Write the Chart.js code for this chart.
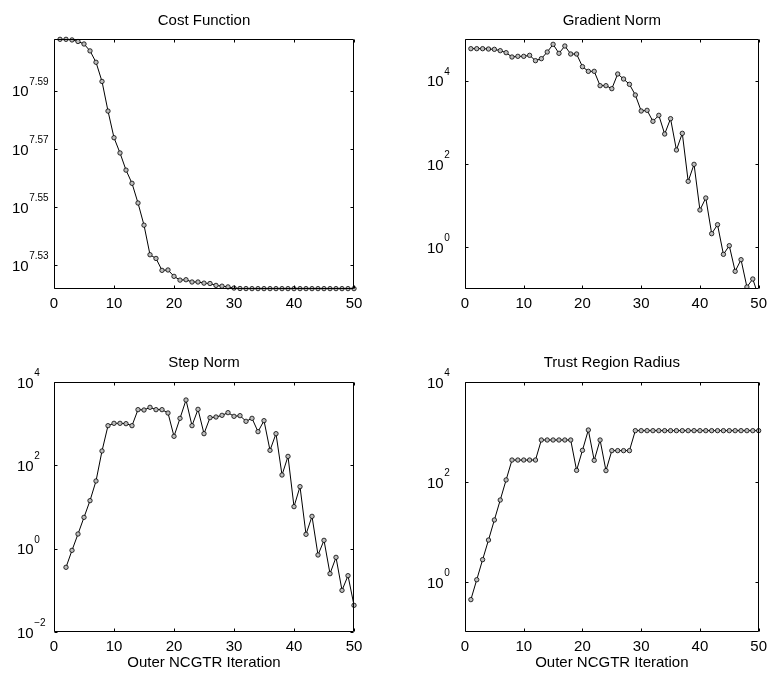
<!DOCTYPE html>
<html>
<head>
<meta charset="utf-8">
<script src="https://cdn.jsdelivr.net/npm/chart.js@4.4.0/dist/chart.umd.min.js"></script>
<style>
  body { margin: 0; background: #fff; }
  #wrap { position: relative; width: 773px; height: 675px; overflow: hidden; }
  canvas { position: absolute; }
</style>
</head>
<body>
<div id="wrap">
  <canvas id="cost" width="386" height="337" style="left:0;top:0"></canvas>
  <canvas id="grad" width="387" height="337" style="left:386px;top:0"></canvas>
  <canvas id="step" width="386" height="338" style="left:0;top:337px"></canvas>
  <canvas id="trust" width="387" height="338" style="left:386px;top:337px"></canvas>
</div>
<script>
const iterations = [1,2,3,4,5,6,7,8,9,10,11,12,13,14,15,16,17,18,19,20,21,22,23,24,25,
  26,27,28,29,30,31,32,33,34,35,36,37,38,39,40,41,42,43,44,45,46,47,48,49,50];

const costValues = [4.053e7, 4.053e7, 4.051e7, 4.046e7, 4.038e7, 4.016e7, 3.980e7, 3.920e7, 3.829e7, 3.749e7,
  3.704e7, 3.654e7, 3.616e7, 3.560e7, 3.498e7, 3.417e7, 3.407e7, 3.375e7, 3.376e7, 3.359e7,
  3.349e7, 3.350e7, 3.344e7, 3.344e7, 3.341e7, 3.340e7, 3.335e7, 3.333e7, 3.331e7, 3.328e7,
  3.3268e7, 3.3266e7, 3.3265e7, 3.3265e7, 3.3265e7, 3.3265e7, 3.3265e7, 3.3265e7, 3.3265e7, 3.3265e7,
  3.3265e7, 3.3265e7, 3.3265e7, 3.3265e7, 3.3265e7, 3.3265e7, 3.3265e7, 3.3265e7, 3.3265e7, 3.3265e7];

const gradValues = [58600, 58600, 58600, 57500, 56490, 52480, 46990, 36980, 38370, 38370,
  40550, 30200, 33730, 48750, 74470, 45290, 67920, 43650, 43650, 21680,
  16750, 16750, 7586, 7586, 6427, 14454, 10965, 8166, 4529, 1871,
  1941, 1057, 1472, 524.8, 1225, 216.8, 544.5, 38.37, 98.2, 7.87,
  15.28, 2.128, 3.499, 0.679, 1.096, 0.2655, 0.5058, 0.1117, 0.1738, 0.065];

const stepValues = [null, 0.357, 0.912, 2.25, 5.65, 14.2, 42.1, 221, 895, 1019,
  1019, 1000, 895, 2168, 2128, 2466, 2168, 2168, 1803, 497,
  1343, 3698, 895, 2208, 575, 1393, 1445, 1585, 1837, 1500,
  1556, 1138, 1343, 643, 1180, 229, 575, 58.6, 164, 10.2,
  30.8, 2.21, 5.97, 0.705, 1.585, 0.251, 0.619, 0.1, 0.225, 0.0437];

const trustValues = [0.444, 1.11, 2.8, 6.9, 17.4, 43.6, 110, 275, 275, 275,
  275, 275, 692, 692, 692, 692, 692, 692, 171, 430,
  1096, 271, 692, 169, 424, 424, 424, 424, 1064, 1064,
  1064, 1064, 1064, 1064, 1064, 1064, 1064, 1064, 1064, 1064,
  1064, 1064, 1064, 1064, 1064, 1064, 1064, 1064, 1064, 1064];

// y tick labels, as the exponent of 10
const costTicks = ['7.53', '7.55', '7.57', '7.59'];
const gradTicks = ['0', '2', '4'];
const stepTicks = ['\u22122', '0', '2', '4'];
const trustTicks = ['0', '2', '4'];

const FONT = '"Liberation Sans", Arial, Helvetica, sans-serif';
Chart.defaults.font.family = FONT;
Chart.defaults.color = '#000';

// box, inward ticks on all four sides and 10^n labels
const matlabAxes = {
  id: 'matlabAxes',
  afterDatasetsDraw(chart, args, opts) {
    const {ctx, chartArea: a, scales: {x, y}} = chart;
    const L = Math.round(a.left) + 0.5, R = Math.round(a.right) - 0.5;
    const T = Math.round(a.top) + 0.5, B = Math.round(a.bottom) - 0.5;
    ctx.save();
    ctx.strokeStyle = '#000';
    ctx.lineWidth = 1;
    ctx.beginPath();
    x.ticks.forEach(t => {
      const px = Math.round(x.getPixelForValue(t.value)) + 0.5;
      ctx.moveTo(px, B); ctx.lineTo(px, B - 3);
      ctx.moveTo(px, T); ctx.lineTo(px, T + 3);
    });
    y.ticks.forEach(t => {
      const py = Math.round(y.getPixelForValue(t.value)) + 0.5;
      ctx.moveTo(L, py); ctx.lineTo(L + 3, py);
      ctx.moveTo(R, py); ctx.lineTo(R - 3, py);
    });
    ctx.rect(L, T, R - L, B - T);
    ctx.stroke();

    ctx.fillStyle = '#000';
    ctx.textAlign = 'left';
    ctx.textBaseline = 'alphabetic';
    y.ticks.forEach((t, i) => {
      const py = y.getPixelForValue(t.value);
      ctx.font = '15px ' + FONT;
      ctx.fillText('10', opts.labelX, py + 5.5);
      const w = ctx.measureText('10').width;
      ctx.font = '10px ' + FONT;
      ctx.fillText(opts.exps[i], opts.labelX + w + 0.5, py - 6);
    });
    ctx.restore();
  }
};

function makePanel(id, p) {
  return new Chart(document.getElementById(id), {
    type: 'line',
    data: {
      datasets: [{
        data: iterations.map((it, i) => ({x: it, y: p.values[i]})),
        borderColor: '#000',
        borderWidth: 1,
        pointRadius: 2.2,
        pointHoverRadius: 2.2,
        pointBorderWidth: 0.8,
        pointBorderColor: '#000',
        pointBackgroundColor: '#bdbdbd',
        tension: 0,
        clip: p.clip
      }]
    },
    options: {
      responsive: false,
      animation: false,
      events: [],
      layout: { padding: { left: 0, right: p.padRight, top: 0, bottom: 0 } },
      plugins: {
        legend: { display: false },
        tooltip: { enabled: false },
        title: {
          display: true,
          text: p.title,
          fullSize: false,
          color: '#000',
          font: { size: 15, weight: 'normal' },
          padding: p.titlePad
        },
        matlabAxes: { labelX: p.labelX, exps: p.exps }
      },
      scales: {
        x: {
          type: 'linear',
          min: 0,
          max: 50,
          ticks: { stepSize: 10, font: { size: 15 }, color: '#000', padding: 6, maxRotation: 0 },
          grid: { display: false, drawTicks: false },
          border: { display: false },
          title: {
            display: !!p.xTitle,
            text: p.xTitle || '',
            color: '#000',
            font: { size: 15 },
            padding: { top: 0, bottom: 3 }
          },
          afterFit: s => { s.height = p.xHeight; }
        },
        y: {
          type: 'logarithmic',
          min: p.min,
          max: p.max,
          ticks: { display: false },
          grid: { display: false, drawTicks: false },
          border: { display: false },
          afterBuildTicks: s => {
            s.ticks = p.exps.map(e => ({ value: Math.pow(10, parseFloat(e.replace('\u2212', '-'))) }));
          },
          afterFit: s => { s.width = p.yWidth; }
        }
      }
    },
    plugins: [matlabAxes]
  });
}

makePanel('cost', {
  title: 'Cost Function', values: costValues, exps: costTicks,
  min: 3.3255e7, max: 4.054e7, clip: 4,
  yWidth: 54, padRight: 32, labelX: 12,
  titlePad: { top: 12, bottom: 9 }, xHeight: 48
});
makePanel('grad', {
  title: 'Gradient Norm', values: gradValues, exps: gradTicks,
  min: 0.1, max: 1e5, clip: { left: 4, right: 4, top: 4, bottom: 0 },
  yWidth: 79, padRight: 8, labelX: 41,
  titlePad: { top: 12, bottom: 9 }, xHeight: 48
});
makePanel('step', {
  title: 'Step Norm', values: stepValues, exps: stepTicks,
  min: 0.01, max: 1e4, clip: 4,
  yWidth: 54, padRight: 32, labelX: 17,
  titlePad: { top: 17, bottom: 10 }, xHeight: 43,
  xTitle: 'Outer NCGTR Iteration'
});
makePanel('trust', {
  title: 'Trust Region Radius', values: trustValues, exps: trustTicks,
  min: 0.1, max: 1e4, clip: 4,
  yWidth: 79, padRight: 8, labelX: 41,
  titlePad: { top: 17, bottom: 10 }, xHeight: 43,
  xTitle: 'Outer NCGTR Iteration'
});
</script>
</body>
</html>
